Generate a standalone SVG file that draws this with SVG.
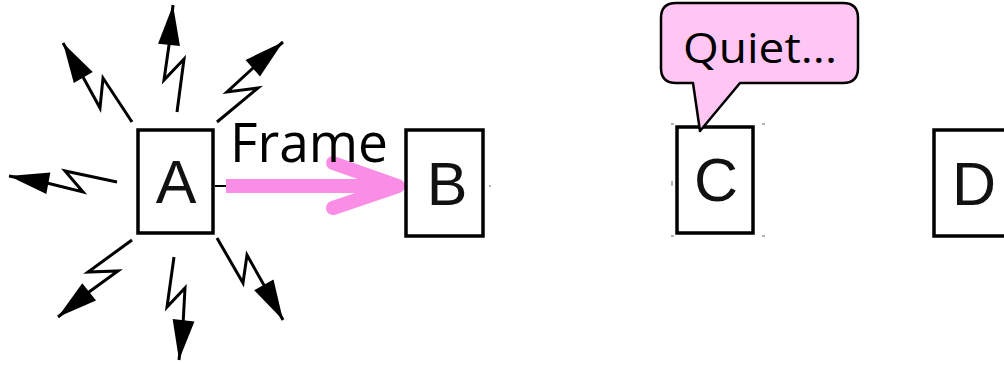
<svg xmlns="http://www.w3.org/2000/svg" width="1004" height="365" viewBox="0 0 1004 365">
<style>
.box{fill:#fff;stroke:#000;stroke-width:3.5}
.lbl{font-family:"Liberation Sans",Arial,sans-serif;font-size:61px;fill:#111;text-anchor:middle}
.bolt{fill:none;stroke:#000;stroke-width:3;stroke-linejoin:miter;marker-end:url(#tri)}
.cal{font-family:"Open Sans","Liberation Sans",sans-serif;fill:#000}
.tick{stroke:#999;stroke-width:1.5}
</style>
<defs>
<marker id="tri" markerUnits="userSpaceOnUse" markerWidth="42" markerHeight="24" refX="40" refY="11" orient="auto" overflow="visible">
<path d="M0,0 L40,11 L0,22 z" fill="#000"/>
</marker>
</defs>
<g id="connectors">
<polyline class="bolt" points="132,122 103,78 100,108 83,77 63,43"/>
<polyline class="bolt" points="177,112 184,59 164,80 169,45 173,5"/>
<polyline class="bolt" points="217,122 258,88 227,92 253,68 283,42"/>
<polyline class="bolt" points="117,182 65,171 83,192 47,183 9,176"/>
<polyline class="bolt" points="132,240 88,272 118,271 89,292 58,317"/>
<polyline class="bolt" points="174,257 167,307 185,288 183,325 179,360"/>
<polyline class="bolt" points="217,238 243,283 247,255 265,287 283,320"/>
<line x1="215" y1="186" x2="227" y2="186" stroke="#000" stroke-width="2"/>
<line x1="390" y1="186" x2="405" y2="186" stroke="#555" stroke-width="1"/>
<line x1="226" y1="186" x2="395" y2="186" stroke="#fa8de6" stroke-width="14"/>
<polyline points="333,163 398,186 333,208" fill="none" stroke="#fa8de6" stroke-width="14" stroke-linecap="round" stroke-linejoin="round"/>
<text class="cal" x="230" y="162" font-size="54" textLength="158" lengthAdjust="spacingAndGlyphs">Frame</text>
</g>
<g id="nodeA">
<rect class="box" x="138" y="130" width="75" height="103"/>
<text class="lbl" x="176" y="203">A</text>
</g>
<g id="nodeB">
<rect class="box" x="406" y="130" width="77" height="106"/>
<text class="lbl" x="447" y="205">B</text>
<circle cx="490" cy="186" r="1" fill="#999"/>
</g>
<g id="nodeC">
<rect class="box" x="677" y="127" width="76" height="106"/>
<text class="lbl" x="716" y="201">C</text>
<line class="tick" x1="671" y1="124" x2="674" y2="124"/>
<line class="tick" x1="762" y1="124" x2="765" y2="124"/>
<line class="tick" x1="671" y1="236" x2="674" y2="236"/>
<line class="tick" x1="762" y1="236" x2="765" y2="236"/>
<line class="tick" x1="672" y1="181" x2="672" y2="186"/>
</g>
<g id="nodeD">
<rect class="box" x="934" y="130" width="80" height="106"/>
<text class="lbl" x="974" y="205">D</text>
</g>
<g id="bubble">
<path d="M676,3 H843 Q858,3 858,18 V68 Q858,83 843,83 H740 L700,131 L693,83 H676 Q661,83 661,68 V18 Q661,3 676,3 Z" fill="#ffc6f4" stroke="#000" stroke-width="2.5" stroke-linejoin="round"/>
<text class="cal" x="683" y="63" font-size="42" textLength="154" lengthAdjust="spacingAndGlyphs">Quiet...</text>
</g>
</svg>
